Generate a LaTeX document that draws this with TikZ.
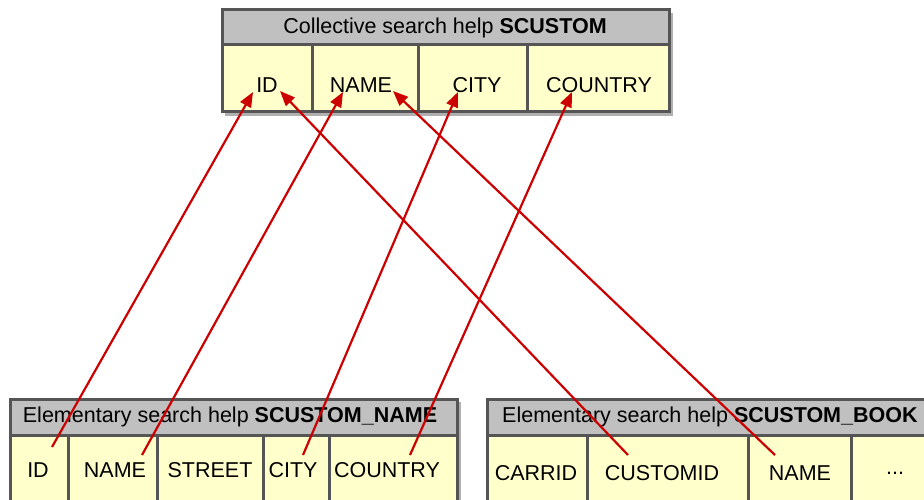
\documentclass[tikz,border=0pt]{standalone}
\usepackage{fontspec}
\setmainfont{Liberation Sans}
\usetikzlibrary{arrows.meta}
\definecolor{hdrgray}{HTML}{C0C0C0}
\definecolor{bordgray}{HTML}{555555}
\definecolor{shadgray}{HTML}{B0B0B0}
\definecolor{cellyel}{HTML}{FFFFCC}
\definecolor{linkred}{HTML}{CC0000}
\tikzset{
  hdr/.style={fill=hdrgray, draw=bordgray, line width=3pt},
  cellbox/.style={fill=cellyel, draw=bordgray, line width=3pt},
  shad/.style={fill=shadgray, draw=none},
  lbl/.style={font=\fontsize{21.5}{24}\selectfont, inner sep=0pt, text=black},
  link/.style={draw=linkred, line width=2.2pt, -{Triangle[length=15pt,width=12pt]}},
}
\begin{document}
\begin{tikzpicture}[x=1pt,y=-1pt]
\useasboundingbox (0,0) rectangle (924,500);
\clip (0,0) rectangle (924,500);
% ---- top box
\fill[shad] (225,13) rectangle (673,116);
\draw[cellbox] (222,45) rectangle (669,112);
\draw[hdr] (222,10) rectangle (669,45);
\foreach \x in {312,418,527} \draw[bordgray, line width=3pt] (\x,45) -- (\x,112);
\node[lbl] (toph) at (445,28) {Collective search help \textbf{SCUSTOM}};
\node[lbl] (tid) at (267,85) {ID};
\node[lbl] (tname) at (361,85) {NAME};
\node[lbl] (tcity) at (477,85) {CITY};
\node[lbl] (tcountry) at (599,85) {COUNTRY};
% ---- bottom left box
\fill[shad] (13,402) rectangle (461,520);
\draw[cellbox] (10,435) rectangle (457,530);
\draw[hdr] (10,399) rectangle (457,435);
\foreach \x in {68,157,263,329} \draw[bordgray, line width=3pt] (\x,435) -- (\x,530);
\node[lbl] (blh) at (230,417) {Elementary search help \textbf{SCUSTOM\_NAME}};
\node[lbl] (bid) at (38,470) {ID};
\node[lbl] (bname) at (115,470) {NAME};
\node[lbl] (bstreet) at (210,470) {STREET};
\node[lbl] (bcity) at (293,470) {CITY};
\node[lbl] (bcountry) at (387,470) {COUNTRY};
% ---- bottom right box
\draw[cellbox] (487,435) rectangle (945,530);
\draw[hdr] (487,399) rectangle (945,435);
\foreach \x in {587,748,851} \draw[bordgray, line width=3pt] (\x,435) -- (\x,530);
\node[lbl, anchor=west] (brh) at (502,417) {Elementary search help \textbf{SCUSTOM\_BOOK}};
\node[lbl] (rcarrid) at (536,473) {CARRID};
\node[lbl] (rcustomid) at (662,473) {CUSTOMID};
\node[lbl] (rname) at (800,473) {NAME};
\node[lbl] (rdots) at (895,473) {...};
% ---- connector end points
\coordinate (s1) at (52,447);
\coordinate (s2) at (142,455);
\coordinate (s3) at (303,455);
\coordinate (s4) at (410,455);
\coordinate (s5) at (628,455);
\coordinate (s6) at (775,455);
\coordinate (e1) at (253,92);
\coordinate (e2) at (343,92);
\coordinate (e3) at (458,92);
\coordinate (e4) at (572,92);
\coordinate (e5) at (280,91);
\coordinate (e6) at (393,91);
\draw[link] (s1) -- (e1);
\draw[link] (s2) -- (e2);
\draw[link] (s3) -- (e3);
\draw[link] (s4) -- (e4);
\draw[link] (s5) -- (e5);
\draw[link] (s6) -- (e6);
\end{tikzpicture}
\end{document}
